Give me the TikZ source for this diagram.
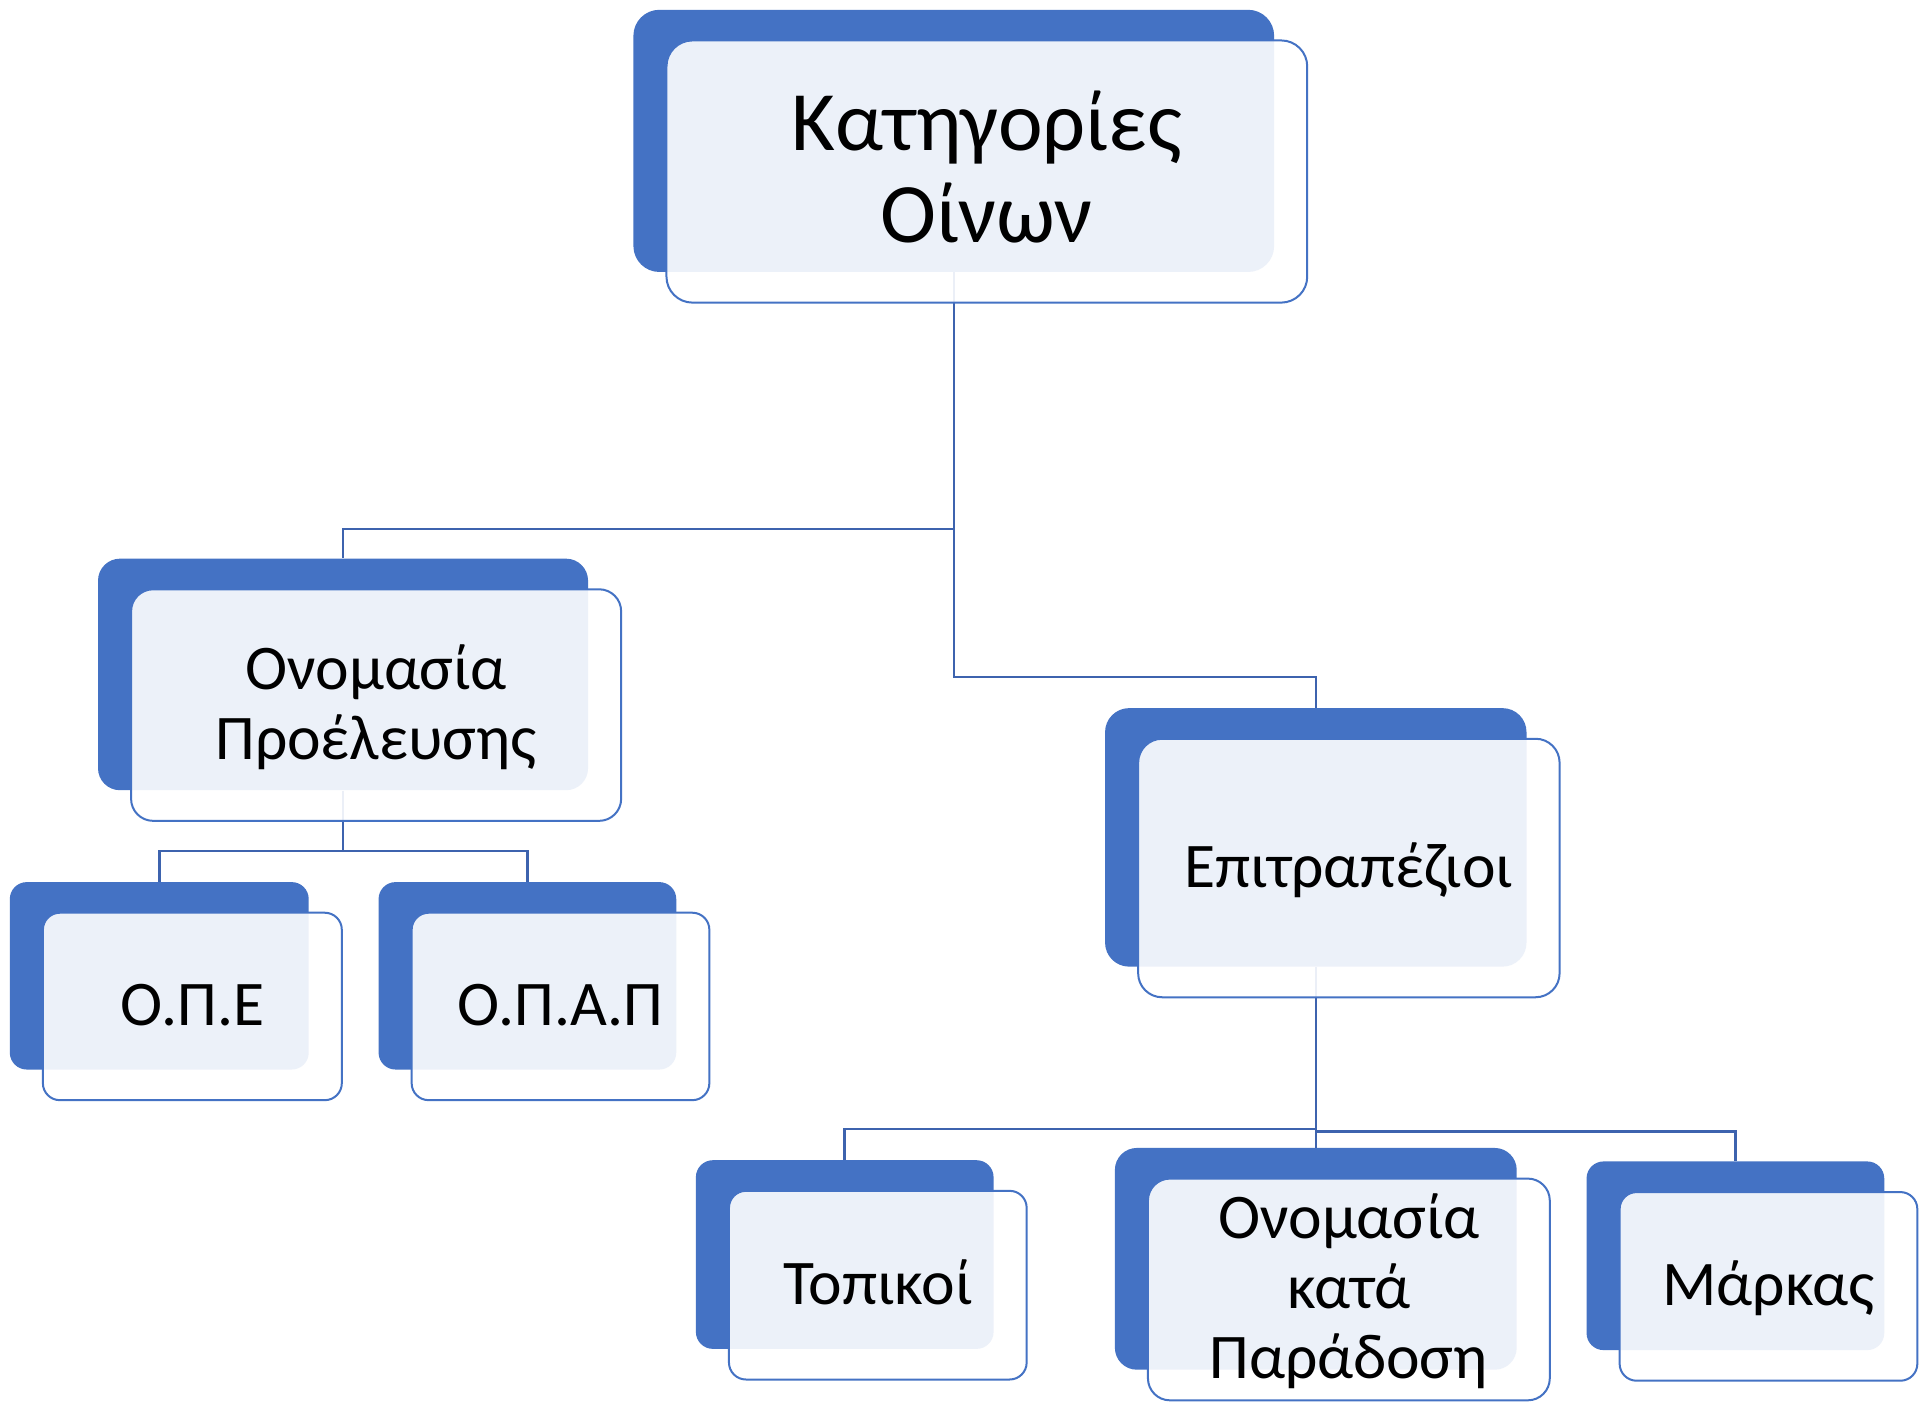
\documentclass[tikz,border=0pt]{standalone}
\usepackage{fontspec}
\setmainfont{Carlito}
\usetikzlibrary{fit,calc}

\definecolor{accent}{HTML}{4472C4}
\definecolor{linkblue}{HTML}{3D63AE}

% fixed line height, so that labels sit like the slide's text
\newcommand{\linestrut}{\rule[-0.2em]{0pt}{1em}}

\tikzset{
  backbox/.style={fill=accent, inner sep=0pt, rounded corners=#1},
  backbox/.default=8.5pt,
  frontbox/.style={draw=accent, line width=1pt, fill=white, fill opacity=0.9,
    inner sep=0pt, rounded corners=#1},
  frontbox/.default=8.5pt,
  boxtext/.style={inner sep=0pt, align=center, font=\fontsize{31.8pt}{34.9pt}\selectfont},
  link/.style={draw=linkblue, line width=1.25pt}
}

\begin{document}
\begin{tikzpicture}[x=0.6126pt,y=-0.6126pt]
\fill[white] (0,0) rectangle (1568,1147);
\useasboundingbox (0,0) rectangle (1568,1147);

% back boxes
\node[backbox=13pt, fit={(517,8) (1040,222)}] (cat) {};
\node[backbox=11pt, fit={(80,456) (480,645)}] (op) {};
\node[backbox, fit={(8,720) (252,873)}] (ope) {};
\node[backbox, fit={(309,720) (552,873)}] (opap) {};
\node[backbox=12pt, fit={(902,578) (1246,789)}] (epit) {};
\node[backbox, fit={(568,947) (811,1101)}] (topi) {};
\node[backbox=11pt, fit={(910,937) (1238,1118)}] (okp) {};
\node[backbox, fit={(1295,948) (1538,1102)}] (mark) {};

% connectors
\draw[link] (cat.south) |- ($(op.north)+(0,-24)$) -- (op.north);
\draw[link] (cat.south) |- ($(epit.north)+(0,-25)$) -- (epit.north);
\draw[link] (op.south) |- ($(ope.north)+(0,-25)$) -- (ope.north);
\draw[link] (op.south) |- ($(opap.north)+(0,-25)$) -- (opap.north);
\draw[link] (epit.south) |- ($(topi.north)+(0,-25)$) -- (topi.north);
\draw[link] (epit.south) -- (okp.north);
\draw[link] (epit.south) |- ($(mark.north)+(0,-24)$) -- (mark.north);

% front boxes
\node[frontbox=13pt, fit={(544,33) (1067,247)}] (cat-f) {};
\node[frontbox=11pt, fit={(107,481) (507,670)}] (op-f) {};
\node[frontbox, fit={(35,745) (279,898)}] (ope-f) {};
\node[frontbox, fit={(336,745) (579,898)}] (opap-f) {};
\node[frontbox=12pt, fit={(929,603) (1273,814)}] (epit-f) {};
\node[frontbox, fit={(595,972) (838,1126)}] (topi-f) {};
\node[frontbox=11pt, fit={(937,962) (1265,1143)}] (okp-f) {};
\node[frontbox, fit={(1322,973) (1565,1127)}] (mark-f) {};

% labels
\node[boxtext, font=\fontsize{42.3pt}{46pt}\selectfont] (cat-t) at (cat-f) {\linestrut Κατηγορίες\\\linestrut Οίνων};
\node[boxtext] (op-t) at (op-f) {\linestrut Ονομασία\\\linestrut Προέλευσης};
\node[boxtext] (ope-t) at (ope-f) {\linestrut Ο.Π.Ε};
\node[boxtext] (opap-t) at (opap-f) {\linestrut Ο.Π.Α.Π};
\node[boxtext] (epit-t) at (epit-f) {\linestrut Επιτραπέζιοι};
\node[boxtext] (topi-t) at (topi-f) {\linestrut Τοπικοί};
\node[boxtext] (okp-t) at (okp-f) {\linestrut Ονομασία\\\linestrut κατά\\\linestrut Παράδοση};
\node[boxtext] (mark-t) at (mark-f) {\linestrut Μάρκας};

\end{tikzpicture}
\end{document}
